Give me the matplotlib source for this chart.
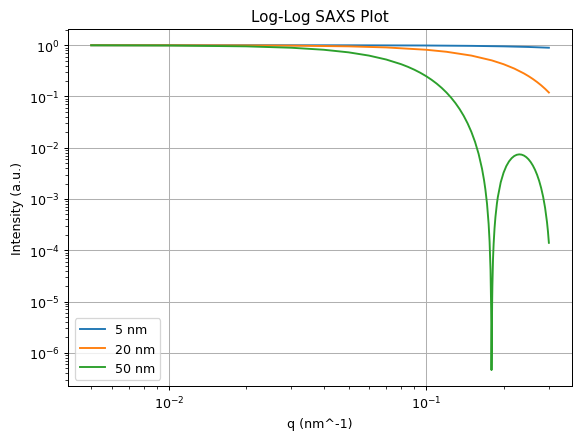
import matplotlib
matplotlib.use("Agg")
import matplotlib.pyplot as plt

# q values (nm^-1) and intensities
q_5 = [0.005, 0.01, 0.02, 0.05, 0.1, 0.15, 0.2, 0.25, 0.3]
i_5 = [1.0, 0.9999, 0.9995, 0.997, 0.988, 0.972, 0.951, 0.925, 0.894]

q_20 = [0.005, 0.01, 0.02, 0.03, 0.05, 0.07, 0.1, 0.12, 0.15, 0.18, 0.2,
        0.22, 0.24, 0.25, 0.26, 0.27, 0.28, 0.29, 0.3]
i_20 = [0.9995, 0.998, 0.992, 0.982, 0.951, 0.906, 0.8163, 0.7451, 0.6278,
        0.506, 0.4265, 0.3511, 0.2816, 0.2495, 0.2193, 0.1911, 0.1651,
        0.1412, 0.1195]

q_50 = [0.005, 0.01, 0.02, 0.03, 0.04, 0.05, 0.06, 0.07, 0.08, 0.085, 0.09,
        0.095, 0.1, 0.105, 0.11, 0.115, 0.12, 0.125, 0.13, 0.135, 0.14,
        0.145, 0.15, 0.155, 0.16, 0.165, 0.168, 0.17, 0.1725, 0.175, 0.1765,
        0.178, 0.179, 0.1792, 0.17955, 0.1803, 0.1806, 0.181, 0.182, 0.183,
        0.1845, 0.186, 0.1885, 0.19, 0.195, 0.2, 0.205, 0.21, 0.215, 0.22,
        0.225, 0.23, 0.235, 0.24, 0.245, 0.25, 0.255, 0.26, 0.265, 0.27,
        0.275, 0.28, 0.285, 0.29, 0.295, 0.2975, 0.3]
i_50 = [0.9969, 0.9876, 0.9511, 0.8928, 0.8163, 0.7263, 0.6278, 0.5262,
        0.4265, 0.3788, 0.3331, 0.2899, 0.2495, 0.2120, 0.1779, 0.1470,
        0.1195, 0.09535, 0.07448, 0.05673, 0.04194, 0.02988, 0.02032,
        0.01297, 0.007583, 0.003861, 0.002312, 0.00153, 8.08e-4, 3.255e-4,
        1.472e-4, 4.09e-5, 7.12e-6, 3.78e-6, 4.6e-7, 4.18e-6, 9.8e-6,
        2.04e-5, 6.74e-5, 1.318e-4, 2.69e-4, 4.464e-4, 8.226e-4, 1.087e-3,
        2.119e-3, 3.255e-3, 4.387e-3, 5.409e-3, 6.256e-3, 6.890e-3, 7.281e-3,
        7.424e-3, 7.336e-3, 7.038e-3, 6.565e-3, 5.955e-3, 5.248e-3, 4.488e-3,
        3.714e-3, 2.960e-3, 2.259e-3, 1.633e-3, 1.102e-3, 6.73e-4, 3.533e-4,
        2.335e-4, 1.396e-4]

fig = plt.figure(figsize=(580 / 91, 441 / 91), dpi=91)
ax = fig.add_axes([0.1178, 0.1218, 0.868, 0.8102])

ax.loglog(q_5, i_5, label="5 nm")
ax.loglog(q_20, i_20, label="20 nm")
ax.loglog(q_50, i_50, label="50 nm")

ax.set_title("Log-Log SAXS Plot")
ax.set_xlabel("q (nm^-1)")
ax.set_ylabel("Intensity (a.u.)")
ax.legend(loc="lower left")
ax.grid(True)

fig.savefig("out.png", dpi=91)
